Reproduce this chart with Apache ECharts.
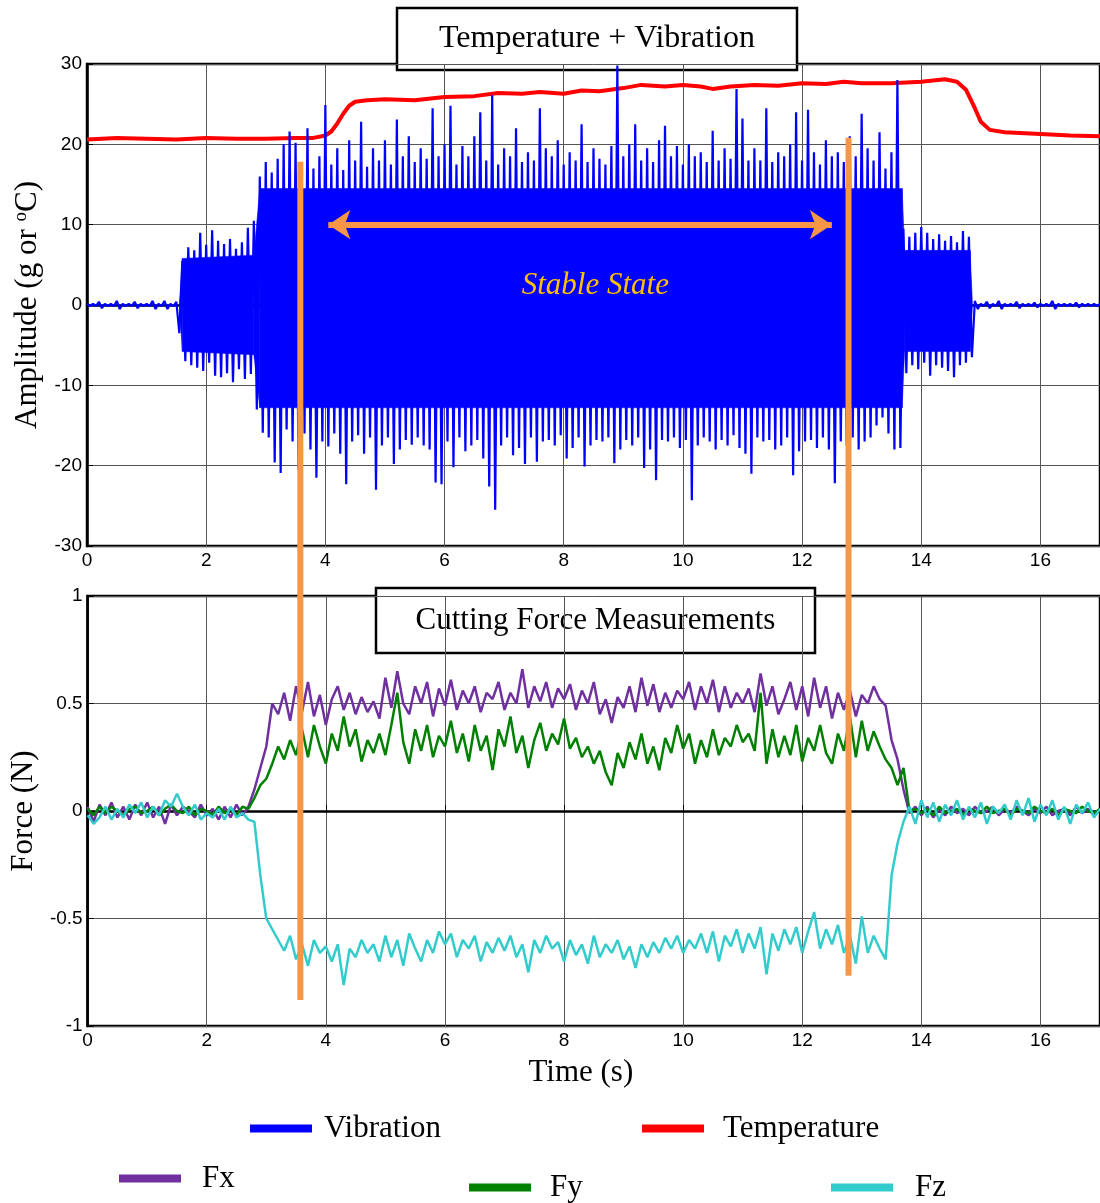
<!DOCTYPE html>
<html>
<head>
<meta charset="utf-8">
<script src="https://cdn.jsdelivr.net/npm/echarts@6.0.0/dist/echarts.min.js"></script>
<style>
  html, body { margin: 0; padding: 0; background: #fff; }
  #chart { width: 1100px; height: 1203px; }
</style>
</head>
<body>
<div id="chart"></div>
<script>
// sample step of the vibration / force traces (s)
const step = 0.1

// vibration: positive and negative peaks per 0.1 s slot
const vibHi = [
  0.15, 0.15, 0.4, 0.15, 0.15, 0.5, 0.15, 0.15, 0.4, 0.15,
  0.15, 0.5, 0.15, 0.5, 0.15, 0.4, 5.5, 7.2, 6.8, 9.0,
  7.5, 9.3, 8.0, 7.6, 8.2, 7.0, 7.8, 9.6, 10.5, 16.0,
  17.8, 16.5, 18.2, 20.0, 21.6, 20.2, 17.5, 22.0, 17.0, 18.5,
  24.9, 17.5, 19.5, 16.8, 20.5, 18.0, 22.8, 17.2, 19.5, 18.0,
  20.5, 17.5, 23.1, 18.5, 21.0, 17.8, 19.5, 18.2, 24.5, 18.5,
  20.0, 24.8, 17.5, 19.8, 18.5, 21.0, 24.0, 18.0, 26.1, 17.5,
  19.5, 18.5, 22.0, 17.8, 19.0, 18.0, 24.5, 19.5, 18.5, 20.5,
  17.5, 19.0, 18.0, 22.5, 17.8, 19.5, 18.2, 17.5, 19.8, 29.8,
  18.5, 20.0, 22.5, 18.0, 19.5, 17.8, 20.5, 22.3, 18.5, 19.8,
  17.5, 20.0, 18.5, 19.0, 17.8, 21.7, 18.0, 19.5, 18.2, 26.9,
  23.2, 18.0, 19.5, 18.0, 24.5, 17.8, 19.0, 18.5, 20.0, 24.0,
  18.0, 24.3, 19.0, 17.5, 20.5, 18.5, 19.0, 17.8, 21.0, 18.5,
  23.8, 19.5, 18.0, 21.5, 17.0, 19.0, 28.0, 9.5, 8.5, 9.0,
  9.7, 9.0, 8.2, 8.8, 8.0, 8.6, 7.8, 9.2, 8.5, 0.5,
  0.15, 0.4, 0.15, 0.5, 0.15, 0.15, 0.4, 0.15, 0.15, 0.3,
  0.15, 0.15, 0.5, 0.15, 0.15, 0.15, 0.3, 0.15, 0.15, 0.15,
  0.15
]
const vibLo = [
  -0.15, -0.15, -0.4, -0.15, -0.15, -0.5, -0.15, -0.15, -0.4, -0.15,
  -0.15, -0.5, -0.15, -0.5, -0.15, -3.5, -7.0, -7.5, -7.8, -8.2,
  -7.2, -8.8, -9.0, -8.5, -9.6, -8.0, -9.2, -8.6, -13.0, -15.9,
  -16.5, -19.6, -20.9, -15.5, -17.0, -20.5, -16.0, -18.0, -21.5, -17.0,
  -17.6, -16.0, -18.5, -22.3, -17.0, -16.2, -18.5, -16.5, -23.0, -17.5,
  -16.5, -19.8, -18.0, -16.8, -17.4, -16.5, -17.5, -18.0, -22.1, -22.3,
  -17.0, -20.2, -16.5, -18.2, -17.5, -16.8, -19.1, -22.6, -25.5, -17.5,
  -16.5, -18.7, -17.8, -19.8, -16.5, -19.5, -17.0, -16.8, -17.5, -16.2,
  -19.1, -17.8, -16.5, -20.1, -17.5, -16.8, -17.0, -16.5, -19.7, -18.0,
  -16.8, -17.5, -16.5, -20.3, -18.0, -21.8, -16.8, -17.0, -16.5, -17.8,
  -16.8, -24.3, -17.5, -16.5, -17.0, -18.0, -16.8, -17.5, -16.2, -17.8,
  -18.5, -21.0, -16.5, -17.0, -16.8, -18.0, -17.5, -16.5, -21.2, -18.2,
  -17.0, -16.8, -17.8, -16.5, -18.0, -22.2, -17.0, -17.5, -16.5, -18.0,
  -17.0, -16.5, -15.0, -14.0, -16.0, -18.0, -17.8, -8.5, -7.5, -8.0,
  -7.2, -8.8, -7.5, -7.8, -8.2, -9.0, -7.5, -7.2, -6.5, -0.5,
  -0.15, -0.4, -0.15, -0.5, -0.15, -0.15, -0.4, -0.15, -0.15, -0.3,
  -0.15, -0.15, -0.5, -0.15, -0.15, -0.15, -0.3, -0.15, -0.15, -0.15,
  -0.15
]

// solid core of the vibration band
const coreT = [0, 1.55, 1.6, 2.8, 2.9, 13.68, 13.72, 14.82, 14.86, 17]
const coreHi = [0, 0, 5.8, 6.2, 14.5, 14.5, 6.8, 6.8, 0, 0]
const coreLo = [0, 0, -5.8, -6.2, -12.8, -12.8, -5.8, -5.8, 0, 0]

// temperature (deg C)
const tempT = [0, 0.5, 1.0, 1.5, 2.0, 2.5, 3.0, 3.5, 3.8, 4.0, 4.1, 4.2, 4.3, 4.4, 4.5, 4.7,
  5.0, 5.5, 6.0, 6.5, 6.9, 7.3, 7.6, 8.0, 8.3, 8.6, 9.0, 9.3, 9.7, 10.0, 10.3, 10.5,
  10.8, 11.2, 11.6, 12.0, 12.4, 12.7, 13.0, 13.5, 14.0, 14.4, 14.6, 14.75, 14.9, 15.0,
  15.15, 15.4, 16.0, 16.5, 17.0]
const tempV = [20.6, 20.8, 20.7, 20.6, 20.8, 20.7, 20.7, 20.8, 20.8, 21.1, 21.6, 22.6, 23.8, 24.8, 25.3, 25.5,
  25.6, 25.5, 25.9, 26.0, 26.4, 26.3, 26.5, 26.3, 26.7, 26.6, 27.0, 27.4, 27.2, 27.4, 27.2, 26.9,
  27.2, 27.4, 27.3, 27.6, 27.5, 27.8, 27.6, 27.6, 27.8, 28.1, 27.8, 26.8, 24.5, 22.8,
  21.8, 21.5, 21.3, 21.1, 21.0]

// cutting forces (N), 0.1 s slots from 0 to 17 s
const fx = [
  0.02, -0.05, 0.03, -0.02, 0.04, -0.03, 0.02, -0.04, 0.03, -0.02,
  0.04, -0.03, 0.02, -0.06, 0.03, -0.02, 0.02, 0.00, -0.03, 0.03,
  -0.02, 0.01, -0.04, 0.02, -0.03, 0.03, -0.02, 0.02, 0.10, 0.20,
  0.30, 0.50, 0.45, 0.55, 0.42, 0.58, 0.46, 0.60, 0.44, 0.54,
  0.40, 0.52, 0.58, 0.47, 0.55, 0.45, 0.53, 0.46, 0.51, 0.43,
  0.62, 0.48, 0.65, 0.50, 0.45, 0.58, 0.50, 0.60, 0.44, 0.57,
  0.49, 0.61, 0.47, 0.56, 0.50, 0.58, 0.46, 0.55, 0.52, 0.60,
  0.47, 0.55, 0.50, 0.66, 0.48, 0.58, 0.51, 0.60, 0.48, 0.57,
  0.52, 0.59, 0.47, 0.56, 0.50, 0.60, 0.45, 0.52, 0.41, 0.53,
  0.48, 0.58, 0.46, 0.62, 0.49, 0.59, 0.46, 0.55, 0.48, 0.56,
  0.52, 0.60, 0.47, 0.58, 0.50, 0.61, 0.46, 0.58, 0.48, 0.55,
  0.50, 0.57, 0.46, 0.64, 0.49, 0.58, 0.45, 0.52, 0.60, 0.47,
  0.58, 0.44, 0.62, 0.48, 0.58, 0.43, 0.55, 0.47, 0.56, 0.44,
  0.54, 0.50, 0.58, 0.52, 0.49, 0.33, 0.24, 0.10, -0.01, 0.02,
  -0.02, 0.02, -0.03, 0.01, -0.02, 0.02, -0.01, 0.01, -0.02, 0.02,
  -0.01, 0.00, 0.02, -0.02, 0.01, -0.01, 0.02, 0.00, -0.02, 0.01,
  -0.01, 0.02, -0.02, 0.00, 0.01, -0.02, 0.02, -0.01, 0.01, -0.02,
  0.01
]
const fy = [
  0.01, -0.02, 0.02, -0.01, 0.02, 0.00, -0.02, 0.01, 0.02, -0.01,
  0.00, 0.02, -0.02, 0.01, 0.03, 0.00, -0.01, 0.02, -0.02, 0.01,
  0.00, -0.02, 0.02, -0.01, 0.01, -0.02, 0.02, 0.01, 0.06, 0.12,
  0.15, 0.22, 0.30, 0.24, 0.33, 0.26, 0.38, 0.25, 0.40, 0.30,
  0.22, 0.36, 0.28, 0.44, 0.30, 0.38, 0.23, 0.33, 0.27, 0.36,
  0.26, 0.40, 0.55, 0.32, 0.22, 0.38, 0.28, 0.40, 0.25, 0.35,
  0.30, 0.42, 0.27, 0.36, 0.23, 0.40, 0.28, 0.35, 0.19, 0.38,
  0.30, 0.44, 0.27, 0.35, 0.20, 0.33, 0.41, 0.28, 0.36, 0.31,
  0.43, 0.29, 0.34, 0.25, 0.30, 0.22, 0.28, 0.18, 0.12, 0.27,
  0.20, 0.32, 0.24, 0.36, 0.22, 0.30, 0.19, 0.34, 0.27, 0.40,
  0.29, 0.36, 0.22, 0.33, 0.25, 0.38, 0.26, 0.34, 0.30, 0.40,
  0.32, 0.36, 0.28, 0.55, 0.22, 0.38, 0.25, 0.35, 0.26, 0.40,
  0.23, 0.34, 0.28, 0.40, 0.27, 0.22, 0.36, 0.28, 0.44, 0.25,
  0.42, 0.28, 0.37, 0.30, 0.24, 0.20, 0.12, 0.20, 0.00, 0.01,
  -0.01, 0.01, -0.02, 0.02, -0.01, 0.00, 0.01, -0.02, 0.01, 0.00,
  -0.01, 0.02, -0.01, 0.00, 0.01, -0.02, 0.01, 0.00, -0.01, 0.02,
  0.00, -0.01, 0.01, -0.02, 0.01, 0.00, -0.01, 0.02, 0.00, -0.01,
  0.01
]
const fz = [
  -0.02, -0.06, -0.03, 0.02, -0.04, 0.01, -0.03, 0.03, -0.01, 0.04,
  -0.03, 0.02, -0.02, 0.05, 0.02, 0.08, 0.02, -0.02, 0.03, -0.04,
  -0.01, -0.03, 0.01, -0.04, 0.02, -0.03, -0.01, -0.04, -0.05, -0.30,
  -0.50, -0.55, -0.60, -0.65, -0.58, -0.69, -0.62, -0.72, -0.60, -0.66,
  -0.63, -0.70, -0.62, -0.81, -0.64, -0.68, -0.60, -0.66, -0.62, -0.70,
  -0.58, -0.68, -0.60, -0.72, -0.57, -0.64, -0.70, -0.60, -0.66, -0.56,
  -0.62, -0.57, -0.68, -0.60, -0.64, -0.58, -0.70, -0.61, -0.66, -0.59,
  -0.65, -0.58, -0.68, -0.62, -0.75, -0.60, -0.66, -0.58, -0.64, -0.61,
  -0.70, -0.60, -0.67, -0.62, -0.71, -0.58, -0.68, -0.62, -0.66, -0.60,
  -0.69, -0.63, -0.73, -0.62, -0.68, -0.61, -0.66, -0.59, -0.64, -0.58,
  -0.66, -0.60, -0.64, -0.57, -0.66, -0.56, -0.70, -0.58, -0.63, -0.55,
  -0.66, -0.57, -0.64, -0.54, -0.76, -0.57, -0.65, -0.55, -0.62, -0.54,
  -0.66, -0.56, -0.47, -0.64, -0.55, -0.62, -0.53, -0.66, -0.58, -0.71,
  -0.49, -0.66, -0.58, -0.64, -0.69, -0.30, -0.15, -0.05, 0.02, -0.06,
  0.05, -0.03, 0.04, -0.05, 0.03, -0.02, 0.05, -0.04, 0.02, -0.03,
  0.04, -0.06, 0.02, -0.01, 0.03, -0.04, 0.05, -0.02, 0.06, -0.05,
  0.03, -0.02, 0.05, -0.04, 0.02, -0.06, 0.03, -0.01, 0.04, -0.03,
  0.01
]

// annotations
const markerT = [3.58, 12.78]
const markerTop = [17.84, 20.83]      // in amplitude units of the upper plot
const markerBottom = [-86.5, -83.5]
const arrowT = [4.05, 12.5]
const arrowY = 10
const labelAt = [8.53, 2.4]

const xTicks = { min: 0, max: 17, interval: 2 }

// ---- build series data ----
const vibData = []
vibHi.forEach((v, i) => {
  const t = +(i * step).toFixed(2)
  vibData.push([t, v])
  vibData.push([+(t + step / 2).toFixed(2), vibLo[i]])
})
const coreData = coreT.map((t, i) => [t, coreLo[i], coreHi[i]])
const tempData = tempT.map((t, i) => [t, tempV[i]])
const toPairs = arr => arr.map((v, i) => [+(i * step).toFixed(2), v])

const serif = 'Liberation Serif'
const sans = 'Liberation Sans'
const orange = '#f79646'

const gridStyle = { show: true, borderColor: '#000', borderWidth: 2.5, backgroundColor: 'transparent' }

function xAxisFor(grid, showName) {
  return {
    type: 'value', gridIndex: grid, ...xTicks,
    axisLine: { show: true, lineStyle: { color: '#000', width: 2.5 } },
    axisTick: { show: true, inside: true, length: 6, lineStyle: { color: '#000' } },
    splitLine: { show: true, lineStyle: { color: '#555', width: 1 } },
    axisLabel: { color: '#000', fontFamily: sans, fontSize: 19, margin: 5, showMaxLabel: false },
    name: showName ? 'Time (s)' : '',
    nameLocation: 'middle', nameGap: 31,
    nameTextStyle: { fontFamily: serif, fontSize: 31, color: '#000', padding: [0, 26, 0, 0] }
  }
}

function yAxisFor(grid, min, max, interval, name) {
  return {
    type: 'value', gridIndex: grid, min, max, interval,
    axisLine: { show: true, lineStyle: { color: '#000', width: 2.5 } },
    axisTick: { show: true, inside: true, length: 6, lineStyle: { color: '#000' } },
    splitLine: { show: true, lineStyle: { color: '#555', width: 1 } },
    axisLabel: { color: '#000', fontFamily: sans, fontSize: 19, margin: 5 },
    name, nameLocation: 'middle', nameGap: 44,
    nameTextStyle: {
      fontFamily: serif, fontSize: 31, color: '#000',
      rich: { s: { fontFamily: serif, fontSize: 19, color: '#000', verticalAlign: 'top', lineHeight: 31 } }
    }
  }
}

function legendAt(name, left, top, gap) {
  return {
    data: [name], left, top, padding: 0, icon: 'rect',
    itemWidth: 62, itemHeight: 8, selectedMode: false,
    textStyle: { fontFamily: serif, fontSize: 31, color: '#000', padding: [0, 0, 0, gap] }
  }
}

function boxTitle(x, y, w, h, text, size) {
  return {
    type: 'group', z: 100,
    children: [
      { type: 'rect', shape: { x, y, width: w, height: h }, style: { fill: '#fff', stroke: '#000', lineWidth: 2.5 } },
      { type: 'text', x: x + w / 2, y: y + h / 2,
        style: { text, fill: '#000', font: size + 'px "' + serif + '"', textAlign: 'center', textVerticalAlign: 'middle' } }
    ]
  }
}

// solid band between the core envelopes, one quad per segment
function renderCore(params, api) {
  const i = params.dataIndex
  if (i >= coreT.length - 1) return null
  const pts = [
    api.coord([coreT[i], coreLo[i]]),
    api.coord([coreT[i], coreHi[i]]),
    api.coord([coreT[i + 1], coreHi[i + 1]]),
    api.coord([coreT[i + 1], coreLo[i + 1]])
  ]
  return { type: 'polygon', shape: { points: pts }, style: { fill: '#0000ff', stroke: '#0000ff', lineWidth: 0.5 } }
}

const chart = echarts.init(document.getElementById('chart'))
chart.setOption({
  animation: false,
  backgroundColor: '#fff',
  grid: [
    { left: 87, top: 64, width: 1020, height: 482, ...gridStyle },
    { left: 87, top: 596, width: 1020, height: 430, ...gridStyle },
    { left: 87, top: 64, width: 1020, height: 962, show: false }
  ],
  xAxis: [
    xAxisFor(0, false),
    xAxisFor(1, true),
    { type: 'value', gridIndex: 2, ...xTicks, show: false }
  ],
  yAxis: [
    yAxisFor(0, -30, 30, 10, 'Amplitude (g or {s|o}C)'),
    yAxisFor(1, -1, 1, 0.5, 'Force (N)'),
    { type: 'value', gridIndex: 2, min: -89.75, max: 30, show: false }
  ],
  legend: [
    legendAt('Vibration', 250, 1113, 7),
    legendAt('Temperature', 642, 1113, 14),
    legendAt('Fx', 119, 1163, 16),
    legendAt('Fy', 469, 1172, 14),
    legendAt('Fz', 831, 1172, 17)
  ],
  graphic: [
    boxTitle(397, 8, 400, 62, 'Temperature + Vibration', 32),
    boxTitle(376, 588, 439, 65, 'Cutting Force Measurements', 31)
  ],
  series: [
    {
      name: 'core', type: 'custom', xAxisIndex: 0, yAxisIndex: 0, silent: true,
      data: coreData, encode: { x: 0, y: [1, 2] }, renderItem: renderCore
    },
    {
      name: 'Temperature', type: 'line', xAxisIndex: 0, yAxisIndex: 0,
      data: tempData, showSymbol: false, symbol: 'none', color: '#ff0000',
      lineStyle: { color: '#ff0000', width: 4 }
    },
    {
      name: 'Vibration', type: 'line', xAxisIndex: 0, yAxisIndex: 0,
      data: vibData, showSymbol: false, symbol: 'none', sampling: null, color: '#0000ff',
      lineStyle: { color: '#0000ff', width: 2.2 },
      markLine: {
        silent: true, symbol: ['arrow', 'arrow'], symbolSize: 22,
        lineStyle: { color: orange, width: 6, type: 'solid' },
        label: { show: false },
        data: [[{ coord: [arrowT[0], arrowY] }, { coord: [arrowT[1], arrowY] }]]
      },
      markPoint: {
        silent: true, symbol: 'circle', symbolSize: 0,
        data: [{
          coord: labelAt,
          label: { show: true, position: 'inside', formatter: 'Stable State', fontFamily: serif,
            fontStyle: 'italic', fontSize: 31, color: '#ffc000', textBorderWidth: 0 }
        }]
      }
    },
    {
      name: 'Fx', type: 'line', xAxisIndex: 1, yAxisIndex: 1, data: toPairs(fx),
      showSymbol: false, symbol: 'none', color: '#7030a0', lineStyle: { color: '#7030a0', width: 2.5 }
    },
    {
      name: 'Fy', type: 'line', xAxisIndex: 1, yAxisIndex: 1, data: toPairs(fy),
      showSymbol: false, symbol: 'none', color: '#008000', lineStyle: { color: '#008000', width: 2.5 }
    },
    {
      name: 'Fz', type: 'line', xAxisIndex: 1, yAxisIndex: 1, data: toPairs(fz),
      showSymbol: false, symbol: 'none', color: '#33cccc', lineStyle: { color: '#33cccc', width: 2.5 }
    },
    ...markerT.map((t, i) => ({
      name: 'marker' + i, type: 'line', xAxisIndex: 2, yAxisIndex: 2,
      data: [[t, markerTop[i]], [t, markerBottom[i]]],
      showSymbol: false, symbol: 'none', silent: true,
      lineStyle: { color: orange, width: 6, cap: 'butt' }
    }))
  ]
})
</script>
</body>
</html>
